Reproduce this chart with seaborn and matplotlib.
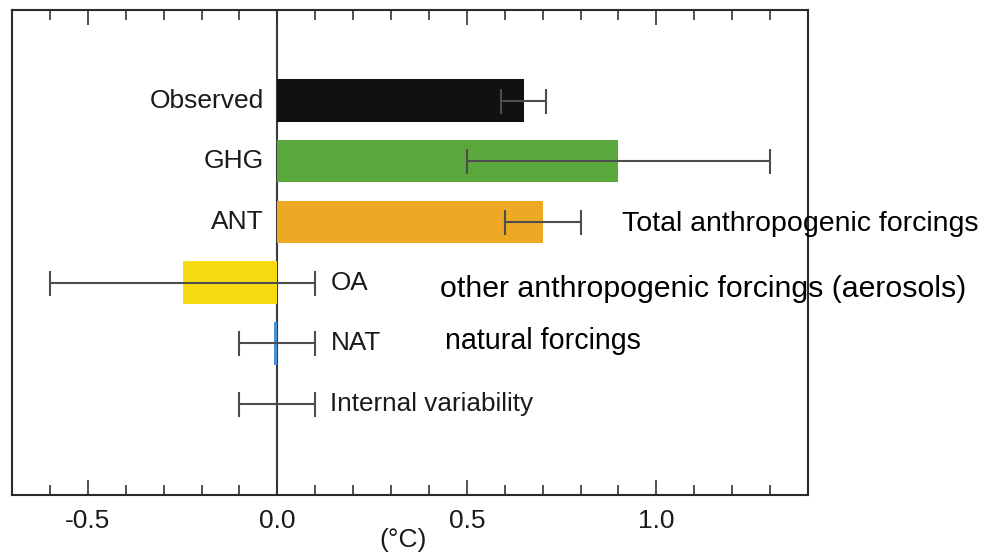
import matplotlib
matplotlib.use("Agg")
import matplotlib.pyplot as plt
import numpy as np
import pandas as pd
import seaborn as sns
from matplotlib.ticker import FixedLocator

# Attributable warming contributions (°C) with likely ranges
labels = ["Observed", "GHG", "ANT", "OA", "NAT", "Internal variability"]
values = [0.65, 0.90, 0.70, -0.25, -0.01, 0.0]
low = [0.59, 0.50, 0.60, -0.60, -0.10, -0.10]
high = [0.71, 1.30, 0.80, 0.10, 0.10, 0.10]
colors = ["#111111", "#5aa83c", "#eda824", "#f8da10", "#4a8fd8", "#ffffff"]

descriptions = {
    "ANT": "Total anthropogenic forcings",
    "OA": "other anthropogenic forcings (aerosols)",
    "NAT": "natural forcings",
}
tick_values = [-0.5, 0.0, 0.5, 1.0]
tick_labels = ["-0.5", "0.0", "0.5", "1.0"]

sns.set_theme(style="white")
plt.rcParams["font.family"] = ["Liberation Sans", "DejaVu Sans"]

df = pd.DataFrame({"label": labels, "value": values, "low": low, "high": high})

fig = plt.figure(figsize=(9.86, 5.56), dpi=100)
ax = fig.add_axes([12 / 986, 1 - 495 / 556, 796 / 986, 485.5 / 556])

ax.axvline(0, color="#3c3c3c", lw=1.5, zorder=0.5)

sns.barplot(data=df, x="value", y="label", hue="label", palette=colors,
            orient="h", width=0.7, legend=False, ax=ax, zorder=2,
            linewidth=0, saturation=1)

ypos = np.arange(len(labels))
vals = np.array(values)
xerr = np.vstack([vals - np.array(low), np.array(high) - vals])
ax.errorbar(vals, ypos, xerr=xerr, fmt="none", ecolor="#4d4d4d",
            elinewidth=1.5, capsize=9, capthick=1.5, zorder=3)

ax.set_xlim(-0.7, 1.4)
ax.set_ylim(len(labels) + 0.5, -1.5)

# Category labels: left of zero for positive bars, right of the range otherwise
for i, (lab, v) in enumerate(zip(labels, values)):
    if v > 0.05:
        ax.text(-0.035, i, lab, ha="right", va="center", fontsize=19,
                color="#1a1a1a")
    else:
        ax.text(0.14, i, lab, ha="left", va="center", fontsize=18.8,
                color="#1a1a1a")

# Explanatory notes beside the plot
note_style = {"ANT": (622, 224, 20.5), "OA": (440, 289, 21.8),
              "NAT": (445, 341, 20.6)}
for key, text in descriptions.items():
    px, py, fs = note_style[key]
    fig.text(px / 986, 1 - py / 556, text, ha="left", va="center",
             fontsize=fs, color="#000000", zorder=1)

ax.set_ylabel("")
ax.set_xlabel("")
ax.set_yticks([])
ax.xaxis.set_major_locator(FixedLocator(tick_values))
ax.set_xticklabels(tick_labels, fontsize=19, color="#1a1a1a")
ax.xaxis.set_minor_locator(FixedLocator(
    [t for t in np.round(np.arange(-0.6, 1.35, 0.1), 1) if t not in tick_values]))
ax.tick_params(axis="x", which="major", direction="in", length=11, width=1.2,
               top=True, bottom=True, pad=10, color="#333333")
ax.tick_params(axis="x", which="minor", direction="in", length=7.5, width=1.2,
               top=True, bottom=True, color="#333333")

for s in ax.spines.values():
    s.set_visible(True)
    s.set_color("#2a2a2a")
    s.set_linewidth(1.5)

fig.text(403 / 986, 1 - 540 / 556, "(°C)", ha="center", va="center",
         fontsize=19, color="#1a1a1a")

fig.savefig("out.png", dpi=100)
